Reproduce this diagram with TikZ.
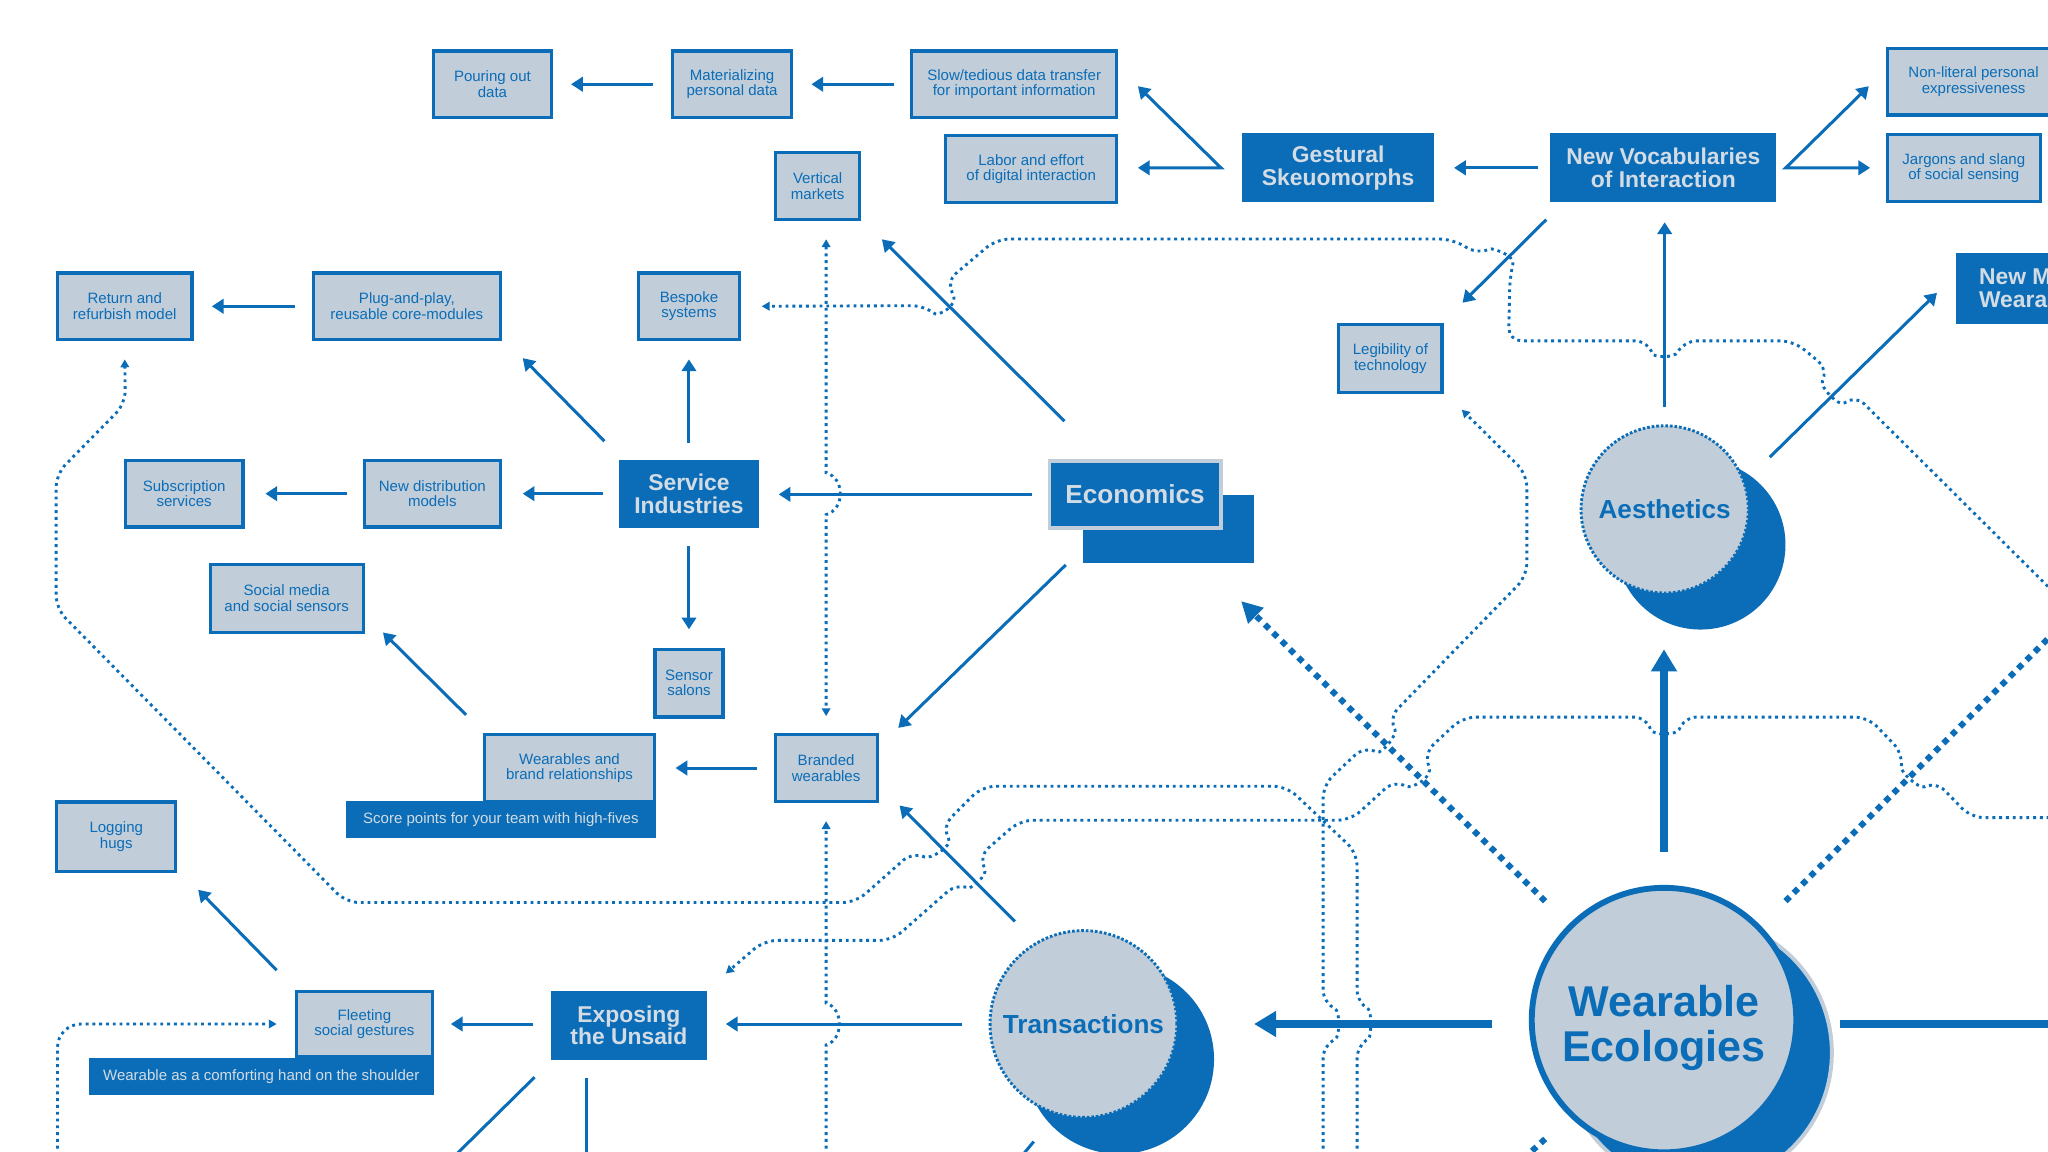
\documentclass[tikz,border=0pt]{standalone}
\usepackage{fontspec}
\setmainfont{Liberation Sans}
\usetikzlibrary{arrows.meta,positioning,calc}
\definecolor{ecoBlue}{HTML}{0B6DB7}
\definecolor{ecoGrey}{HTML}{C1CDD8}
\definecolor{ecoPale}{HTML}{D3DCE4}
\tikzset{
  idea/.style={draw=ecoBlue, fill=ecoGrey, line width=2.4pt, align=center,
        text=ecoBlue, inner sep=0pt, minimum height=51pt,
        font=\fontsize{11.5}{11.8}\selectfont},
  theme/.style={fill=ecoBlue, align=center, text=ecoPale, inner sep=0pt,
        minimum height=53pt, font=\fontsize{17.5}{17.5}\selectfont\bfseries},
  banner/.style={fill=ecoBlue, text=ecoPale, inner sep=0pt, minimum height=28pt,
        font=\fontsize{11.5}{12}\selectfont},
  econbox/.style={fill=ecoBlue, draw=ecoGrey, line width=3pt, text=ecoPale,
        inner sep=0pt, font=\fontsize{20}{20}\selectfont\bfseries},
  hub/.style={circle, fill=ecoGrey, draw=ecoBlue, line width=2.2pt, inner sep=0pt,
        dash pattern=on 2pt off 1.5pt, text=ecoBlue,
        font=\fontsize{20}{20}\selectfont\bfseries},
  hubshadow/.style={circle, fill=ecoBlue, inner sep=0pt},
  core/.style={circle, fill=ecoGrey, draw=ecoBlue, line width=4.5pt, inner sep=0pt,
        align=center, text=ecoBlue, font=\fontsize{33}{35}\selectfont\bfseries},
  link/.style={-{Triangle[length=9pt,width=11pt]}, line width=2.3pt, draw=ecoBlue},
  forked/.style={{Triangle[length=9pt,width=11pt]}-{Triangle[length=9pt,width=11pt]},
        line width=2.3pt, draw=ecoBlue},
  biglink/.style={-{Triangle[length=17pt,width=19pt]}, line width=6pt, draw=ecoBlue},
  trail/.style={-{Triangle[length=6pt,width=6.5pt]}, line width=2.2pt, draw=ecoBlue,
        dash pattern=on 2.2pt off 3pt},
  trailboth/.style={trail, {Triangle[length=6pt,width=6.5pt]}-{Triangle[length=6pt,width=6.5pt]}},
  bigtrail/.style={line width=4.6pt, draw=ecoBlue, dash pattern=on 4.6pt off 4.4pt}
}

\begin{document}
\begin{tikzpicture}[x=1pt, y=-1pt]
\path[use as bounding box, clip] (0,0) rectangle (1568,882);
\fill[white] (0,0) rectangle (1568,882);

% boxes
\node[idea, minimum width=90pt] (pour) at (377,64.5) {Pouring out\\data};
\node[idea, minimum width=91pt] (mater) at (560.5,64.5) {Materializing\\personal data};
\node[idea, minimum width=157pt] (slow) at (776.5,64.5) {Slow/tedious data transfer\\for important information};
\node[idea, minimum width=131pt] (labor) at (789.5,129.5) {Labor and effort\\of digital interaction};
\node[idea, minimum width=64pt] (vert) at (626,142.5) {Vertical\\markets};
\node[theme, minimum width=147pt] (gest) at (1024.5,128.5) {Gestural\\Skeuomorphs};
\node[theme, minimum width=173pt] (nvoc) at (1273.5,128.5) {New Vocabularies\\of Interaction};
\node[idea, minimum width=132pt] (nonlit) at (1511,62.5) {Non-literal personal\\expressiveness};
\node[idea, minimum width=117pt] (jarg) at (1503.5,128.5) {Jargons and slang\\of social sensing};
\node[theme, anchor=west, align=left, inner xsep=18pt, minimum height=54pt] (newm) at (1497,221) {New M\\Weara};
\node[idea, minimum width=79pt, minimum height=52pt] (legib) at (1064.5,274.5) {Legibility of\\technology};

\node[fill=ecoBlue, minimum width=131pt, minimum height=52pt] (econsh) at (894.5,405) {};
\node[econbox, minimum width=131pt, minimum height=51pt] (econ) at (869,378.5) {Economics};

\node[theme, minimum width=107pt, minimum height=52pt] (serv) at (527.5,378) {Service\\Industries};
\node[idea, minimum width=77pt] (besp) at (527.5,234.5) {Bespoke\\systems};
\node[idea, minimum width=143pt] (plug) at (311.5,234.5) {Plug-and-play,\\reusable core-modules};
\node[idea, minimum width=103pt] (ret) at (95.5,234.5) {Return and\\refurbish model};
\node[idea, minimum width=104pt] (ndist) at (331,378) {New distribution\\models};
\node[idea, minimum width=90pt] (subs) at (141,378) {Subscription\\services};
\node[idea, minimum width=117pt, minimum height=52pt] (socm) at (219.5,458) {Social media\\and social sensors};
\node[idea, minimum width=52pt, minimum height=52pt] (sens) at (527.5,523) {Sensor\\salons};
\node[idea, minimum width=78pt] (brand) at (632.5,588) {Branded\\wearables};
\node[banner, minimum width=237pt] (score) at (383.5,627.5) {Score points for your team with high-fives};
\node[idea, minimum width=130pt] (wbr) at (436,588) {Wearables and\\brand relationships};
\node[idea, minimum width=91pt, minimum height=53pt] (logh) at (89,640.5) {Logging\\hugs};
\node[banner, minimum width=264pt] (comf) at (200,824) {Wearable as a comforting hand on the shoulder};
\node[idea, minimum width=104pt, minimum height=50pt] (fleet) at (279,784) {Fleeting\\social gestures};
\node[theme, minimum width=120pt] (expo) at (481.5,785) {Exposing\\the Unsaid};

% circles
\node[hubshadow, minimum size=145pt] (transsh) at (857,811) {};
\node[hub, minimum size=143pt] (trans) at (829.5,784) {Transactions};
\node[hubshadow, minimum size=130pt] (aestsh) at (1302,417) {};
\node[hub, minimum size=128pt] (aest) at (1274.5,390) {Aesthetics};
\node[circle, fill=ecoBlue, draw=ecoGrey, line width=3pt, minimum size=205pt] (wecolsh) at (1300,806) {};
\node[core, minimum size=202.5pt] (wecol) at (1274,781) {\rule{0pt}{36pt}Wearable\\Ecologies};

% free ends
\coordinate (gfork) at ($(gest.west)+(-16,0)$);
\coordinate (nfork) at ($(nvoc.east)+(7,0)$);
\coordinate (offsw) at (337,896);
\coordinate (offs) at (449,897);
\coordinate (offtr) at (779,889);
\coordinate (offe) at (1590,784);
\coordinate (offne) at (1590,467);
\coordinate (offsw2) at (1160,893);
\coordinate (offa) at (1590,471);
\coordinate (offl1) at (1039,895);
\coordinate (offl2) at (1013,895);
\coordinate (offl3) at (1590,626);
\coordinate (offd2) at (632.5,895);
\coordinate (offfl) at (44,895);

% solid arrows
\draw[link, shorten <=14pt, shorten >=14pt] (mater.west) -- (pour.east);
\draw[link, shorten <=12pt, shorten >=14pt] (slow.west) -- (mater.east);
\draw[forked] ($(slow.east)+(15,1.5)$) -- (gfork) -- ($(labor.east)+(15,-1)$);
\draw[link, shorten <=9pt, shorten >=15pt] (nvoc.west) -- (gest.east);
\draw[forked] ($(nonlit.west)+(-13,3.5)$) -- (nfork) -- ($(jarg.west)+(-12,0)$);
\draw[link] ($(nvoc.south west)+(-3,13)$) -- ($(legib.north east)+(14.5,-15.5)$);
\draw[link, shorten <=13pt, shorten >=15pt] (aest.north) -- (aest.north |- nvoc.south);
\draw[link] ($(aest.center)+(80.5,-40)$) -- ($(newm.south west)+(-14,-24)$);

\draw[link, shorten <=12pt, shorten >=15pt] (econ.west) -- (econ.west -| serv.east);
\draw[link] ($(econ.north west)+(13,-29)$) -- ($(vert.south east)+(16,14)$);
\draw[link] ($(econ.south west)+(14,27)$) -- ($(brand.north east)+(15,-4)$);

\draw[link, shorten <=13pt, shorten >=14pt] (serv.north) -- (besp.south);
\draw[link] ($(serv.north west)+(-11,-14)$) -- ($(plug.south east)+(16,13)$);
\draw[link, shorten <=12pt, shorten >=16pt] (serv.west) -- (ndist.east);
\draw[link, shorten <=14pt, shorten >=14pt] (serv.south) -- (sens.north);
\draw[link, shorten <=13pt, shorten >=14pt] (plug.west) -- (ret.east);
\draw[link, shorten <=12pt, shorten >=16pt] (ndist.west) -- (subs.east);
\draw[link] ($(wbr.north west)+(-13,-14)$) -- ($(socm.south east)+(14,-1)$);
\draw[link, shorten <=13pt, shorten >=15pt] (brand.west) -- (wbr.east);

\draw[link] ($(trans.center)+(-52.5,-78.5)$) -- ($(brand.south east)+(16,2)$);
\draw[link, shorten <=20pt, shorten >=14pt] (trans.west) -- (trans.west -| expo.east);
\draw[link, shorten <=13pt, shorten >=13pt] (fleet.east -| expo.west) -- (fleet.east);
\draw[link] ($(fleet.north west)+(-14,-15)$) -- ($(logh.south east)+(16,13)$);
\draw[link] ($(expo.south west)+(-12,13)$) -- (offsw);
\draw[link, shorten <=14pt] (expo.south -| offs) -- (offs);
\draw[line width=2.3pt, draw=ecoBlue] ($(trans.center)+(-38,90)$) -- (offtr);

\draw[biglink] ($(wecol.west)+(-28,3)$) -- ($(trans.east)+(58,0)$);
\draw[line width=6pt, draw=ecoBlue] ($(wecol.east)+(31,3)$) -- (offe);
\draw[biglink, shorten <=25pt, shorten >=42pt] (wecol.north) -- (wecol.north |- aest.south);
\draw[bigtrail, -{Triangle[length=16pt,width=16pt]}] ($(wecol.center)+(-91,-91)$) -- ($(econsh.south east)+(-10,29)$);
\draw[bigtrail] ($(wecol.center)+(93,-91)$) -- (offne);
\draw[bigtrail] ($(wecol.center)+(-91,91)$) -- (offsw2);

% dotted trails
\draw[trailboth] ($(brand.north |- vert.south)+(0,14)$) -- (632.5,362)
  .. controls (647,366) and (647,390) .. (632.5,394) -- ($(brand.north)+(0,-13)$);
\draw[trail] (offd2) -- (632.5,800) .. controls (646,796) and (646,772) .. (632.5,768)
  -- ($(brand.south)+(0,14)$);
\draw[trail, rounded corners=10pt] (offa) -- (1420,302)
  .. controls (1408,312) and (1393,296) .. (1400,283) -- (1373,261) -- (1289,261)
  .. controls (1282,274) and (1266,274) .. (1262,261) -- (1155,261) -- (1156,212)
  .. controls (1160,195) and (1142,190) .. (1132,195) -- (1112,183) -- (763,183) -- (724,216)
  .. controls (735,234) and (718,242) .. (708,234) -- ($(besp.east)+(16,0)$);
\draw[trail, rounded corners=10pt] (offl1) -- (1039,800)
  .. controls (1050,794) and (1050,774) .. (1039,768) -- (1039,653) -- (985,602) -- (752,602) -- (721,633)
  .. controls (730,648) and (712,658) .. (699,652) -- (655,691) -- (265,691) -- (43,466)
  -- (43,363) -- (96,309) -- ($(ret.south)+(0,14)$);
\draw[trail, rounded corners=10pt] (offl2) -- (1013,800)
  .. controls (1026,794) and (1026,774) .. (1013,768) -- (1013,601) -- (1045,571)
  .. controls (1058,578) and (1070,562) .. (1063,550) -- (1169,441) -- (1169,363)
  -- ($(legib.south east)+(14,12)$);
\draw[trail, rounded corners=10pt] (offl3) -- (1509,626) -- (1482,598)
  .. controls (1470,604) and (1455,592) .. (1457,577) -- (1430,549) -- (1289,549)
  .. controls (1284,563) and (1265,563) .. (1261,549) -- (1120,549) -- (1090,577)
  .. controls (1098,596) and (1080,604) .. (1068,597) -- (1034,628) -- (781,628) -- (749,656)
  .. controls (757,671) and (742,680) .. (733,676) -- (683,720) -- (585,720)
  -- ($(expo.north east)+(14,-13)$);
\draw[trail, rounded corners=18pt] (offfl) |- ($(fleet.west)+(-14,0)$);
\end{tikzpicture}
\end{document}
